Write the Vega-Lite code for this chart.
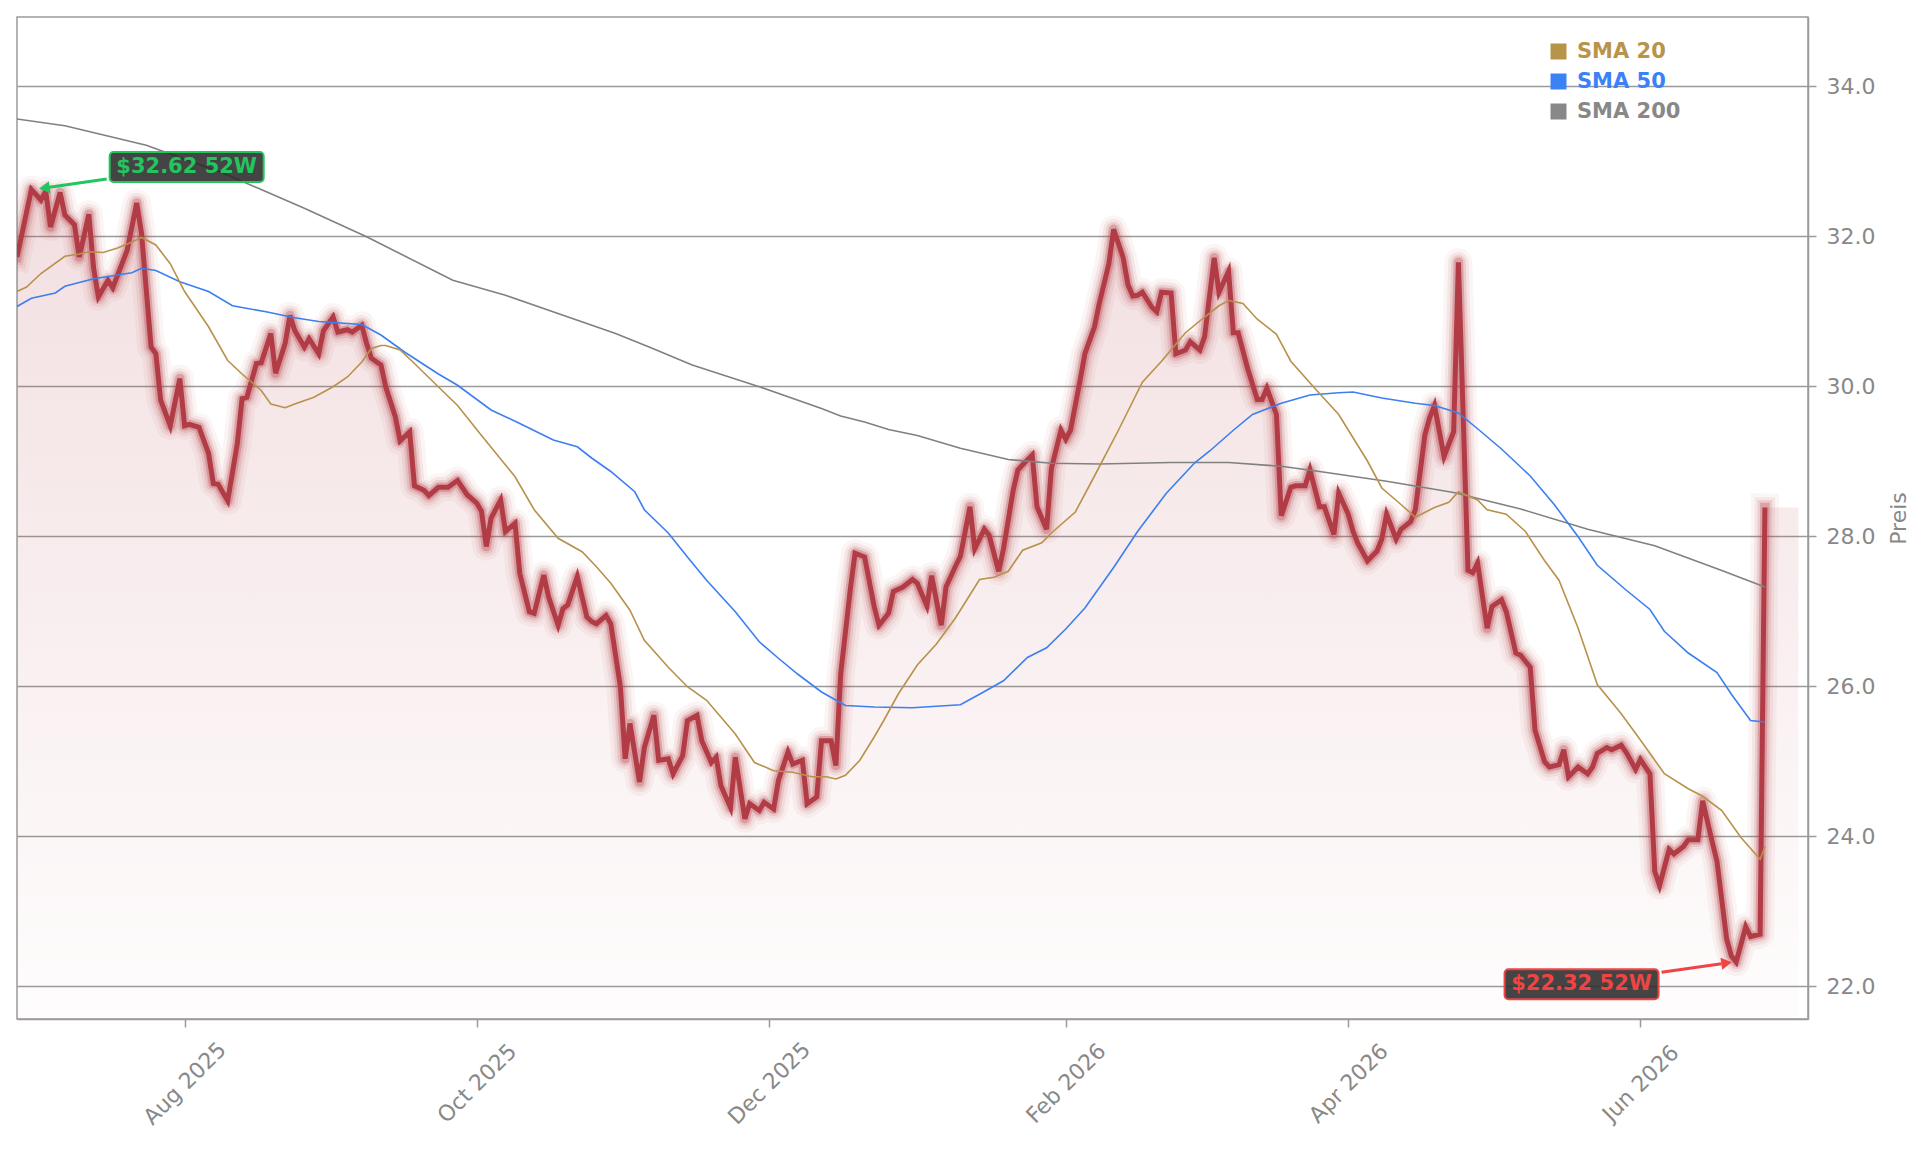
{
  "$schema": "https://vega.github.io/schema/vega-lite/v6.json",
  "width": 1791,
  "height": 1002,
  "autosize": {"type": "none"},
  "padding": {"left": 17, "top": 17, "right": 121, "bottom": 132},
  "background": "white",
  "config": {
    "font": "DejaVu Sans",
    "view": {"stroke": "#9a9a9a", "strokeWidth": 1.5},
    "axis": {"labelFont": "DejaVu Sans", "titleFont": "DejaVu Sans"}
  },
  "datasets": {
    "price": [
      {"d":"2025-06-27","p":31.72},{"d":"2025-06-30","p":32.62},{"d":"2025-07-02","p":32.48},{"d":"2025-07-03","p":32.60},
      {"d":"2025-07-04","p":32.12},{"d":"2025-07-06","p":32.58},{"d":"2025-07-07","p":32.28},{"d":"2025-07-09","p":32.15},
      {"d":"2025-07-10","p":31.72},{"d":"2025-07-12","p":32.29},{"d":"2025-07-13","p":31.57},{"d":"2025-07-14","p":31.19},
      {"d":"2025-07-16","p":31.41},{"d":"2025-07-17","p":31.31},{"d":"2025-07-20","p":31.81},{"d":"2025-07-22","p":32.44},
      {"d":"2025-07-23","p":32.04},{"d":"2025-07-25","p":30.52},{"d":"2025-07-26","p":30.43},{"d":"2025-07-27","p":29.81},
      {"d":"2025-07-29","p":29.47},{"d":"2025-07-31","p":30.10},{"d":"2025-08-01","p":29.47},{"d":"2025-08-02","p":29.49},
      {"d":"2025-08-04","p":29.45},{"d":"2025-08-06","p":29.10},{"d":"2025-08-07","p":28.70},{"d":"2025-08-08","p":28.69},
      {"d":"2025-08-10","p":28.47},{"d":"2025-08-12","p":29.23},{"d":"2025-08-13","p":29.83},{"d":"2025-08-14","p":29.85},
      {"d":"2025-08-16","p":30.30},{"d":"2025-08-17","p":30.31},{"d":"2025-08-19","p":30.70},{"d":"2025-08-20","p":30.17},
      {"d":"2025-08-22","p":30.57},{"d":"2025-08-23","p":30.94},{"d":"2025-08-24","p":30.74},{"d":"2025-08-26","p":30.52},
      {"d":"2025-08-27","p":30.63},{"d":"2025-08-29","p":30.43},{"d":"2025-08-30","p":30.74},{"d":"2025-09-01","p":30.92},
      {"d":"2025-09-02","p":30.72},{"d":"2025-09-04","p":30.75},{"d":"2025-09-05","p":30.72},{"d":"2025-09-07","p":30.81},
      {"d":"2025-09-08","p":30.57},{"d":"2025-09-09","p":30.37},{"d":"2025-09-11","p":30.28},{"d":"2025-09-12","p":29.99},
      {"d":"2025-09-14","p":29.59},{"d":"2025-09-15","p":29.27},{"d":"2025-09-17","p":29.39},{"d":"2025-09-18","p":28.67},
      {"d":"2025-09-20","p":28.61},{"d":"2025-09-21","p":28.54},{"d":"2025-09-23","p":28.65},{"d":"2025-09-25","p":28.65},
      {"d":"2025-09-27","p":28.74},{"d":"2025-09-29","p":28.55},{"d":"2025-10-01","p":28.44},{"d":"2025-10-02","p":28.33},
      {"d":"2025-10-03","p":27.86},{"d":"2025-10-04","p":28.24},{"d":"2025-10-06","p":28.48},{"d":"2025-10-07","p":28.06},
      {"d":"2025-10-09","p":28.17},{"d":"2025-10-10","p":27.50},{"d":"2025-10-12","p":26.99},{"d":"2025-10-13","p":26.97},
      {"d":"2025-10-15","p":27.48},{"d":"2025-10-16","p":27.19},{"d":"2025-10-18","p":26.81},{"d":"2025-10-19","p":27.03},
      {"d":"2025-10-20","p":27.08},{"d":"2025-10-22","p":27.46},{"d":"2025-10-24","p":26.92},{"d":"2025-10-25","p":26.86},
      {"d":"2025-10-26","p":26.83},{"d":"2025-10-28","p":26.94},{"d":"2025-10-29","p":26.83},{"d":"2025-10-31","p":25.99},
      {"d":"2025-11-01","p":25.03},{"d":"2025-11-02","p":25.50},{"d":"2025-11-04","p":24.72},{"d":"2025-11-05","p":25.18},
      {"d":"2025-11-07","p":25.61},{"d":"2025-11-08","p":25.01},{"d":"2025-11-10","p":25.03},{"d":"2025-11-11","p":24.83},
      {"d":"2025-11-13","p":25.07},{"d":"2025-11-14","p":25.54},{"d":"2025-11-16","p":25.61},{"d":"2025-11-17","p":25.27},
      {"d":"2025-11-19","p":24.98},{"d":"2025-11-20","p":25.05},{"d":"2025-11-21","p":24.67},{"d":"2025-11-23","p":24.38},
      {"d":"2025-11-24","p":25.05},{"d":"2025-11-26","p":24.23},{"d":"2025-11-27","p":24.43},{"d":"2025-11-29","p":24.34},
      {"d":"2025-11-30","p":24.45},{"d":"2025-12-02","p":24.36},{"d":"2025-12-03","p":24.74},{"d":"2025-12-05","p":25.12},
      {"d":"2025-12-06","p":24.96},{"d":"2025-12-08","p":25.01},{"d":"2025-12-09","p":24.43},{"d":"2025-12-11","p":24.52},
      {"d":"2025-12-12","p":25.27},{"d":"2025-12-14","p":25.27},{"d":"2025-12-15","p":24.94},{"d":"2025-12-16","p":26.16},
      {"d":"2025-12-18","p":27.28},{"d":"2025-12-19","p":27.77},{"d":"2025-12-21","p":27.72},{"d":"2025-12-23","p":27.06},
      {"d":"2025-12-24","p":26.81},{"d":"2025-12-26","p":26.97},{"d":"2025-12-27","p":27.26},{"d":"2025-12-29","p":27.32},
      {"d":"2025-12-31","p":27.42},{"d":"2026-01-01","p":27.37},{"d":"2026-01-03","p":27.07},{"d":"2026-01-04","p":27.47},
      {"d":"2026-01-06","p":26.81},{"d":"2026-01-07","p":27.32},{"d":"2026-01-09","p":27.60},{"d":"2026-01-10","p":27.73},
      {"d":"2026-01-12","p":28.39},{"d":"2026-01-13","p":27.83},{"d":"2026-01-15","p":28.09},{"d":"2026-01-16","p":28.01},
      {"d":"2026-01-18","p":27.53},{"d":"2026-01-19","p":27.83},{"d":"2026-01-21","p":28.60},{"d":"2026-01-22","p":28.88},
      {"d":"2026-01-23","p":28.95},{"d":"2026-01-25","p":29.08},{"d":"2026-01-26","p":28.39},{"d":"2026-01-28","p":28.09},
      {"d":"2026-01-29","p":28.90},{"d":"2026-01-31","p":29.41},{"d":"2026-02-01","p":29.29},{"d":"2026-02-02","p":29.41},
      {"d":"2026-02-04","p":30.08},{"d":"2026-02-05","p":30.43},{"d":"2026-02-07","p":30.79},{"d":"2026-02-08","p":31.10},
      {"d":"2026-02-10","p":31.63},{"d":"2026-02-11","p":32.09},{"d":"2026-02-13","p":31.71},{"d":"2026-02-14","p":31.35},
      {"d":"2026-02-15","p":31.20},{"d":"2026-02-16","p":31.21},{"d":"2026-02-17","p":31.25},{"d":"2026-02-19","p":31.05},
      {"d":"2026-02-20","p":30.99},{"d":"2026-02-21","p":31.25},{"d":"2026-02-23","p":31.24},{"d":"2026-02-24","p":30.43},
      {"d":"2026-02-26","p":30.48},{"d":"2026-02-27","p":30.59},{"d":"2026-03-01","p":30.48},{"d":"2026-03-02","p":30.66},
      {"d":"2026-03-04","p":31.71},{"d":"2026-03-05","p":31.25},{"d":"2026-03-07","p":31.53},{"d":"2026-03-08","p":30.71},
      {"d":"2026-03-09","p":30.71},{"d":"2026-03-11","p":30.23},{"d":"2026-03-13","p":29.82},{"d":"2026-03-14","p":29.82},
      {"d":"2026-03-15","p":29.97},{"d":"2026-03-17","p":29.62},{"d":"2026-03-18","p":28.27},{"d":"2026-03-20","p":28.65},
      {"d":"2026-03-21","p":28.67},{"d":"2026-03-23","p":28.67},{"d":"2026-03-24","p":28.88},{"d":"2026-03-26","p":28.39},
      {"d":"2026-03-27","p":28.39},{"d":"2026-03-29","p":28.02},{"d":"2026-03-30","p":28.57},{"d":"2026-04-01","p":28.29},
      {"d":"2026-04-02","p":28.06},{"d":"2026-04-03","p":27.90},{"d":"2026-04-05","p":27.67},{"d":"2026-04-07","p":27.80},
      {"d":"2026-04-08","p":27.96},{"d":"2026-04-09","p":28.29},{"d":"2026-04-11","p":27.96},{"d":"2026-04-12","p":28.09},
      {"d":"2026-04-14","p":28.19},{"d":"2026-04-15","p":28.35},{"d":"2026-04-17","p":29.35},{"d":"2026-04-18","p":29.58},
      {"d":"2026-04-19","p":29.74},{"d":"2026-04-21","p":29.06},{"d":"2026-04-23","p":29.39},{"d":"2026-04-24","p":31.65},
      {"d":"2026-04-26","p":27.54},{"d":"2026-04-27","p":27.51},{"d":"2026-04-28","p":27.64},{"d":"2026-04-30","p":26.77},
      {"d":"2026-05-01","p":27.06},{"d":"2026-05-03","p":27.15},{"d":"2026-05-04","p":26.99},{"d":"2026-05-06","p":26.44},
      {"d":"2026-05-07","p":26.41},{"d":"2026-05-09","p":26.25},{"d":"2026-05-10","p":25.41},{"d":"2026-05-12","p":24.99},
      {"d":"2026-05-13","p":24.92},{"d":"2026-05-15","p":24.95},{"d":"2026-05-16","p":25.15},{"d":"2026-05-17","p":24.79},
      {"d":"2026-05-19","p":24.92},{"d":"2026-05-21","p":24.83},{"d":"2026-05-22","p":24.92},{"d":"2026-05-23","p":25.10},
      {"d":"2026-05-25","p":25.18},{"d":"2026-05-26","p":25.15},{"d":"2026-05-28","p":25.21},{"d":"2026-05-29","p":25.12},
      {"d":"2026-05-31","p":24.89},{"d":"2026-06-01","p":25.02},{"d":"2026-06-03","p":24.83},{"d":"2026-06-04","p":23.53},
      {"d":"2026-06-05","p":23.34},{"d":"2026-06-07","p":23.82},{"d":"2026-06-08","p":23.76},{"d":"2026-06-10","p":23.86},
      {"d":"2026-06-11","p":23.95},{"d":"2026-06-13","p":23.95},{"d":"2026-06-14","p":24.47},{"d":"2026-06-16","p":23.92},
      {"d":"2026-06-17","p":23.66},{"d":"2026-06-19","p":22.63},{"d":"2026-06-20","p":22.40},{"d":"2026-06-21","p":22.32},
      {"d":"2026-06-23","p":22.79},{"d":"2026-06-24","p":22.66},{"d":"2026-06-26","p":22.69},{"d":"2026-06-27","p":28.38},
      {"d":"2026-07-04","p":28.38,"ext":true}
    ],
    "sma": [
      {"d":"2025-06-27","s":"SMA 200","v":33.56},{"d":"2025-07-07","s":"SMA 200","v":33.47},{"d":"2025-07-24","s":"SMA 200","v":33.21},
      {"d":"2025-08-09","s":"SMA 200","v":32.84},{"d":"2025-08-26","s":"SMA 200","v":32.37},{"d":"2025-09-08","s":"SMA 200","v":31.99},
      {"d":"2025-09-26","s":"SMA 200","v":31.41},{"d":"2025-10-07","s":"SMA 200","v":31.21},{"d":"2025-10-30","s":"SMA 200","v":30.70},
      {"d":"2025-11-06","s":"SMA 200","v":30.52},{"d":"2025-11-15","s":"SMA 200","v":30.28},{"d":"2025-11-29","s":"SMA 200","v":29.99},
      {"d":"2025-12-12","s":"SMA 200","v":29.70},{"d":"2025-12-16","s":"SMA 200","v":29.60},{"d":"2025-12-21","s":"SMA 200","v":29.52},
      {"d":"2025-12-26","s":"SMA 200","v":29.42},{"d":"2026-01-01","s":"SMA 200","v":29.34},{"d":"2026-01-10","s":"SMA 200","v":29.17},
      {"d":"2026-01-20","s":"SMA 200","v":29.02},{"d":"2026-01-29","s":"SMA 200","v":28.97},{"d":"2026-02-08","s":"SMA 200","v":28.96},
      {"d":"2026-02-23","s":"SMA 200","v":28.98},{"d":"2026-03-07","s":"SMA 200","v":28.98},{"d":"2026-03-18","s":"SMA 200","v":28.93},
      {"d":"2026-03-26","s":"SMA 200","v":28.86},{"d":"2026-04-09","s":"SMA 200","v":28.73},{"d":"2026-04-23","s":"SMA 200","v":28.58},
      {"d":"2026-05-07","s":"SMA 200","v":28.36},{"d":"2026-05-21","s":"SMA 200","v":28.09},{"d":"2026-06-04","s":"SMA 200","v":27.87},
      {"d":"2026-06-18","s":"SMA 200","v":27.54},{"d":"2026-06-27","s":"SMA 200","v":27.32},

      {"d":"2025-06-27","s":"SMA 50","v":31.06},{"d":"2025-06-30","s":"SMA 50","v":31.17},{"d":"2025-07-05","s":"SMA 50","v":31.24},
      {"d":"2025-07-07","s":"SMA 50","v":31.33},{"d":"2025-07-13","s":"SMA 50","v":31.43},{"d":"2025-07-17","s":"SMA 50","v":31.47},
      {"d":"2025-07-21","s":"SMA 50","v":31.51},{"d":"2025-07-23","s":"SMA 50","v":31.57},{"d":"2025-07-26","s":"SMA 50","v":31.54},
      {"d":"2025-07-31","s":"SMA 50","v":31.39},{"d":"2025-08-06","s":"SMA 50","v":31.26},{"d":"2025-08-11","s":"SMA 50","v":31.07},
      {"d":"2025-08-18","s":"SMA 50","v":30.99},{"d":"2025-08-24","s":"SMA 50","v":30.91},{"d":"2025-08-29","s":"SMA 50","v":30.86},
      {"d":"2025-09-07","s":"SMA 50","v":30.82},{"d":"2025-09-11","s":"SMA 50","v":30.68},{"d":"2025-09-16","s":"SMA 50","v":30.45},
      {"d":"2025-09-23","s":"SMA 50","v":30.16},{"d":"2025-09-27","s":"SMA 50","v":30.01},{"d":"2025-10-04","s":"SMA 50","v":29.68},
      {"d":"2025-10-10","s":"SMA 50","v":29.50},{"d":"2025-10-17","s":"SMA 50","v":29.28},{"d":"2025-10-22","s":"SMA 50","v":29.19},
      {"d":"2025-10-25","s":"SMA 50","v":29.04},{"d":"2025-10-29","s":"SMA 50","v":28.86},{"d":"2025-11-03","s":"SMA 50","v":28.59},
      {"d":"2025-11-05","s":"SMA 50","v":28.35},{"d":"2025-11-10","s":"SMA 50","v":28.04},{"d":"2025-11-14","s":"SMA 50","v":27.72},
      {"d":"2025-11-18","s":"SMA 50","v":27.41},{"d":"2025-11-24","s":"SMA 50","v":26.99},{"d":"2025-11-29","s":"SMA 50","v":26.59},
      {"d":"2025-12-03","s":"SMA 50","v":26.37},{"d":"2025-12-07","s":"SMA 50","v":26.16},{"d":"2025-12-12","s":"SMA 50","v":25.92},
      {"d":"2025-12-17","s":"SMA 50","v":25.74},{"d":"2025-12-23","s":"SMA 50","v":25.72},{"d":"2025-12-31","s":"SMA 50","v":25.71},
      {"d":"2026-01-10","s":"SMA 50","v":25.75},{"d":"2026-01-14","s":"SMA 50","v":25.89},{"d":"2026-01-19","s":"SMA 50","v":26.07},
      {"d":"2026-01-24","s":"SMA 50","v":26.38},{"d":"2026-01-28","s":"SMA 50","v":26.51},{"d":"2026-02-01","s":"SMA 50","v":26.76},
      {"d":"2026-02-05","s":"SMA 50","v":27.04},{"d":"2026-02-11","s":"SMA 50","v":27.58},{"d":"2026-02-16","s":"SMA 50","v":28.06},
      {"d":"2026-02-22","s":"SMA 50","v":28.57},{"d":"2026-02-28","s":"SMA 50","v":28.98},{"d":"2026-03-03","s":"SMA 50","v":29.13},
      {"d":"2026-03-08","s":"SMA 50","v":29.41},{"d":"2026-03-12","s":"SMA 50","v":29.62},{"d":"2026-03-18","s":"SMA 50","v":29.77},
      {"d":"2026-03-24","s":"SMA 50","v":29.88},{"d":"2026-03-30","s":"SMA 50","v":29.91},{"d":"2026-04-02","s":"SMA 50","v":29.92},
      {"d":"2026-04-08","s":"SMA 50","v":29.84},{"d":"2026-04-15","s":"SMA 50","v":29.77},{"d":"2026-04-19","s":"SMA 50","v":29.74},
      {"d":"2026-04-24","s":"SMA 50","v":29.64},{"d":"2026-04-28","s":"SMA 50","v":29.43},{"d":"2026-05-03","s":"SMA 50","v":29.16},
      {"d":"2026-05-09","s":"SMA 50","v":28.80},{"d":"2026-05-14","s":"SMA 50","v":28.42},{"d":"2026-05-19","s":"SMA 50","v":27.99},
      {"d":"2026-05-23","s":"SMA 50","v":27.61},{"d":"2026-05-29","s":"SMA 50","v":27.28},{"d":"2026-06-03","s":"SMA 50","v":27.02},
      {"d":"2026-06-06","s":"SMA 50","v":26.73},{"d":"2026-06-11","s":"SMA 50","v":26.44},{"d":"2026-06-17","s":"SMA 50","v":26.18},
      {"d":"2026-06-20","s":"SMA 50","v":25.89},{"d":"2026-06-24","s":"SMA 50","v":25.54},{"d":"2026-06-27","s":"SMA 50","v":25.52},

      {"d":"2025-06-27","s":"SMA 20","v":31.26},{"d":"2025-06-29","s":"SMA 20","v":31.32},{"d":"2025-07-02","s":"SMA 20","v":31.50},
      {"d":"2025-07-07","s":"SMA 20","v":31.73},{"d":"2025-07-10","s":"SMA 20","v":31.76},{"d":"2025-07-12","s":"SMA 20","v":31.79},
      {"d":"2025-07-15","s":"SMA 20","v":31.78},{"d":"2025-07-18","s":"SMA 20","v":31.84},{"d":"2025-07-21","s":"SMA 20","v":31.92},
      {"d":"2025-07-23","s":"SMA 20","v":31.98},{"d":"2025-07-26","s":"SMA 20","v":31.88},{"d":"2025-07-29","s":"SMA 20","v":31.63},
      {"d":"2025-08-01","s":"SMA 20","v":31.26},{"d":"2025-08-06","s":"SMA 20","v":30.79},{"d":"2025-08-10","s":"SMA 20","v":30.34},
      {"d":"2025-08-13","s":"SMA 20","v":30.16},{"d":"2025-08-17","s":"SMA 20","v":29.94},{"d":"2025-08-19","s":"SMA 20","v":29.76},
      {"d":"2025-08-22","s":"SMA 20","v":29.71},{"d":"2025-08-24","s":"SMA 20","v":29.76},{"d":"2025-08-28","s":"SMA 20","v":29.85},
      {"d":"2025-09-01","s":"SMA 20","v":29.99},{"d":"2025-09-04","s":"SMA 20","v":30.12},{"d":"2025-09-07","s":"SMA 20","v":30.32},
      {"d":"2025-09-09","s":"SMA 20","v":30.50},{"d":"2025-09-11","s":"SMA 20","v":30.54},{"d":"2025-09-12","s":"SMA 20","v":30.54},
      {"d":"2025-09-15","s":"SMA 20","v":30.48},{"d":"2025-09-18","s":"SMA 20","v":30.30},{"d":"2025-09-22","s":"SMA 20","v":30.05},
      {"d":"2025-09-27","s":"SMA 20","v":29.74},{"d":"2025-10-02","s":"SMA 20","v":29.34},{"d":"2025-10-09","s":"SMA 20","v":28.79},
      {"d":"2025-10-13","s":"SMA 20","v":28.35},{"d":"2025-10-18","s":"SMA 20","v":27.97},{"d":"2025-10-23","s":"SMA 20","v":27.79},
      {"d":"2025-10-26","s":"SMA 20","v":27.59},{"d":"2025-10-29","s":"SMA 20","v":27.37},{"d":"2025-11-02","s":"SMA 20","v":27.01},
      {"d":"2025-11-05","s":"SMA 20","v":26.61},{"d":"2025-11-10","s":"SMA 20","v":26.25},{"d":"2025-11-14","s":"SMA 20","v":25.99},
      {"d":"2025-11-18","s":"SMA 20","v":25.81},{"d":"2025-11-24","s":"SMA 20","v":25.36},{"d":"2025-11-28","s":"SMA 20","v":24.98},
      {"d":"2025-12-02","s":"SMA 20","v":24.87},{"d":"2025-12-06","s":"SMA 20","v":24.85},{"d":"2025-12-10","s":"SMA 20","v":24.79},
      {"d":"2025-12-13","s":"SMA 20","v":24.79},{"d":"2025-12-15","s":"SMA 20","v":24.76},{"d":"2025-12-17","s":"SMA 20","v":24.81},
      {"d":"2025-12-20","s":"SMA 20","v":25.01},{"d":"2025-12-23","s":"SMA 20","v":25.32},{"d":"2025-12-25","s":"SMA 20","v":25.54},
      {"d":"2025-12-28","s":"SMA 20","v":25.89},{"d":"2026-01-01","s":"SMA 20","v":26.28},{"d":"2026-01-05","s":"SMA 20","v":26.56},
      {"d":"2026-01-09","s":"SMA 20","v":26.91},{"d":"2026-01-14","s":"SMA 20","v":27.42},{"d":"2026-01-17","s":"SMA 20","v":27.45},
      {"d":"2026-01-20","s":"SMA 20","v":27.53},{"d":"2026-01-23","s":"SMA 20","v":27.81},{"d":"2026-01-27","s":"SMA 20","v":27.91},
      {"d":"2026-01-29","s":"SMA 20","v":28.04},{"d":"2026-02-03","s":"SMA 20","v":28.32},{"d":"2026-02-07","s":"SMA 20","v":28.80},
      {"d":"2026-02-12","s":"SMA 20","v":29.41},{"d":"2026-02-17","s":"SMA 20","v":30.05},{"d":"2026-02-21","s":"SMA 20","v":30.33},
      {"d":"2026-02-26","s":"SMA 20","v":30.71},{"d":"2026-03-02","s":"SMA 20","v":30.92},{"d":"2026-03-05","s":"SMA 20","v":31.07},
      {"d":"2026-03-07","s":"SMA 20","v":31.14},{"d":"2026-03-10","s":"SMA 20","v":31.10},{"d":"2026-03-13","s":"SMA 20","v":30.89},
      {"d":"2026-03-17","s":"SMA 20","v":30.69},{"d":"2026-03-20","s":"SMA 20","v":30.33},{"d":"2026-03-25","s":"SMA 20","v":29.97},
      {"d":"2026-03-30","s":"SMA 20","v":29.62},{"d":"2026-04-05","s":"SMA 20","v":29.00},{"d":"2026-04-08","s":"SMA 20","v":28.64},
      {"d":"2026-04-12","s":"SMA 20","v":28.42},{"d":"2026-04-15","s":"SMA 20","v":28.25},{"d":"2026-04-19","s":"SMA 20","v":28.38},
      {"d":"2026-04-22","s":"SMA 20","v":28.45},{"d":"2026-04-24","s":"SMA 20","v":28.59},{"d":"2026-04-28","s":"SMA 20","v":28.48},
      {"d":"2026-04-30","s":"SMA 20","v":28.35},{"d":"2026-05-04","s":"SMA 20","v":28.29},{"d":"2026-05-08","s":"SMA 20","v":28.06},
      {"d":"2026-05-12","s":"SMA 20","v":27.67},{"d":"2026-05-15","s":"SMA 20","v":27.41},{"d":"2026-05-19","s":"SMA 20","v":26.77},
      {"d":"2026-05-23","s":"SMA 20","v":26.02},{"d":"2026-05-28","s":"SMA 20","v":25.63},{"d":"2026-06-01","s":"SMA 20","v":25.28},
      {"d":"2026-06-06","s":"SMA 20","v":24.83},{"d":"2026-06-11","s":"SMA 20","v":24.63},{"d":"2026-06-14","s":"SMA 20","v":24.53},
      {"d":"2026-06-18","s":"SMA 20","v":24.34},{"d":"2026-06-22","s":"SMA 20","v":23.98},{"d":"2026-06-26","s":"SMA 20","v":23.69},
      {"d":"2026-06-27","s":"SMA 20","v":23.86}
    ],
    "notes": [
      {"d":"2025-06-30","p":32.62,"label":"$32.62 52W","kind":"hi"},
      {"d":"2026-06-21","p":22.32,"label":"$22.32 52W","kind":"lo"}
    ]
  },
  "layer": [
    {
      "data": {"name": "price"},
      "mark": {
        "type": "area",
        "clip": true,
        "fill": {"gradient": "linear", "x1": 0, "y1": 0, "x2": 0, "y2": 1,
          "stops": [{"offset": 0, "color": "rgba(181,64,74,0.17)"}, {"offset": 1, "color": "rgba(181,64,74,0.01)"}]}
      },
      "encoding": {
        "x": {
          "field": "d", "type": "temporal",
          "scale": {"type": "utc", "domain": [{"year": 2025, "month": 6, "date": 27, "utc": true}, {"year": 2026, "month": 7, "date": 6, "utc": true}]},
          "axis": {
            "title": null, "grid": false,
            "values": [
              {"year": 2025, "month": 8, "date": 1, "utc": true},
              {"year": 2025, "month": 10, "date": 1, "utc": true},
              {"year": 2025, "month": 12, "date": 1, "utc": true},
              {"year": 2026, "month": 2, "date": 1, "utc": true},
              {"year": 2026, "month": 4, "date": 1, "utc": true},
              {"year": 2026, "month": 6, "date": 1, "utc": true}
            ],
            "format": "%b %Y",
            "labelAngle": -45, "labelAlign": "center", "labelBaseline": "middle", "labelPadding": 56,
            "labelFontSize": 22, "labelColor": "#888888", "labelOverlap": false, "labelFlush": false,
            "tickColor": "#9a9a9a", "tickSize": 8, "tickWidth": 1.5,
            "domainColor": "#9a9a9a", "domainWidth": 1.5
          }
        },
        "y": {
          "field": "p", "type": "quantitative",
          "scale": {"domain": [21.56, 34.92], "nice": false, "zero": false},
          "axis": {
            "orient": "right", "title": "Preis",
            "values": [22, 24, 26, 28, 30, 32, 34], "format": ".1f",
            "grid": true, "gridColor": "#9a9a9a", "gridWidth": 1.5,
            "labelFontSize": 22, "labelColor": "#888888", "labelPadding": 10, "labelOverlap": false,
            "tickColor": "#9a9a9a", "tickSize": 8, "tickWidth": 1.5,
            "domainColor": "#9a9a9a", "domainWidth": 1.5,
            "titleFontSize": 22, "titleFontWeight": "normal", "titleColor": "#888888",
            "titleAngle": 270, "titleBaseline": "top", "titlePadding": 14
          }
        },
        "y2": {"datum": 21.56}
      }
    },
    {
      "data": {"name": "price"},
      "transform": [{"filter": "!datum.ext"}],
      "mark": {"type": "line", "clip": true, "color": "#b5404a", "strokeWidth": 28, "opacity": 0.055, "strokeJoin": "round", "strokeCap": "square"},
      "encoding": {"x": {"field": "d", "type": "temporal"}, "y": {"field": "p", "type": "quantitative"}}
    },
    {
      "data": {"name": "price"},
      "transform": [{"filter": "!datum.ext"}],
      "mark": {"type": "line", "clip": true, "color": "#b5404a", "strokeWidth": 20.5, "opacity": 0.085, "strokeJoin": "round", "strokeCap": "square"},
      "encoding": {"x": {"field": "d", "type": "temporal"}, "y": {"field": "p", "type": "quantitative"}}
    },
    {
      "data": {"name": "price"},
      "transform": [{"filter": "!datum.ext"}],
      "mark": {"type": "line", "clip": true, "color": "#b5404a", "strokeWidth": 14.5, "opacity": 0.15, "strokeJoin": "round", "strokeCap": "square"},
      "encoding": {"x": {"field": "d", "type": "temporal"}, "y": {"field": "p", "type": "quantitative"}}
    },
    {
      "data": {"name": "price"},
      "transform": [{"filter": "!datum.ext"}],
      "mark": {"type": "line", "clip": true, "color": "#b5404a", "strokeWidth": 9.5, "opacity": 0.3, "strokeJoin": "round", "strokeCap": "square"},
      "encoding": {"x": {"field": "d", "type": "temporal"}, "y": {"field": "p", "type": "quantitative"}}
    },
    {
      "data": {"name": "price"},
      "transform": [{"filter": "!datum.ext"}],
      "mark": {"type": "line", "clip": true, "color": "#b23c46", "strokeWidth": 5},
      "encoding": {"x": {"field": "d", "type": "temporal"}, "y": {"field": "p", "type": "quantitative"}}
    },
    {
      "data": {"name": "sma"},
      "transform": [{"filter": "datum.s === 'SMA 200'"}],
      "mark": {"type": "line", "clip": true, "strokeWidth": 1.6, "color": "#808080"},
      "encoding": {"x": {"field": "d", "type": "temporal"}, "y": {"field": "v", "type": "quantitative"}}
    },
    {
      "data": {"name": "sma"},
      "transform": [{"filter": "datum.s === 'SMA 50'"}],
      "mark": {"type": "line", "clip": true, "strokeWidth": 1.6, "color": "#3b7ff0"},
      "encoding": {"x": {"field": "d", "type": "temporal"}, "y": {"field": "v", "type": "quantitative"}}
    },
    {
      "data": {"name": "sma"},
      "transform": [{"filter": "datum.s === 'SMA 20'"}],
      "mark": {"type": "line", "clip": true, "strokeWidth": 1.6, "color": "#b8914b"},
      "encoding": {"x": {"field": "d", "type": "temporal"}, "y": {"field": "v", "type": "quantitative"}}
    },
    {
      "data": {"name": "sma"},
      "transform": [{"filter": "datum.v > 100"}],
      "mark": {"type": "square"},
      "encoding": {
        "x": {"field": "d", "type": "temporal"},
        "y": {"field": "v", "type": "quantitative"},
        "fill": {
          "field": "s", "type": "nominal",
          "scale": {"domain": ["SMA 20", "SMA 50", "SMA 200"], "range": ["#b8944a", "#3b82f6", "#888888"]},
          "legend": {
            "title": null, "orient": "none", "legendX": 1531, "legendY": 24, "padding": 0,
            "symbolType": "square", "symbolSize": 256, "symbolStrokeWidth": 0, "symbolOpacity": 1,
            "labelFont": "DejaVu Sans", "labelFontSize": 21, "labelFontWeight": "bold", "labelOffset": 8,
            "labelColor": {"expr": "datum.label === 'SMA 20' ? '#b8944a' : datum.label === 'SMA 50' ? '#3b82f6' : '#888888'"},
            "rowPadding": 8
          }
        }
      }
    },
    {
      "data": {"name": "notes"},
      "transform": [{"filter": "datum.kind === 'hi'"}],
      "layer": [
        {
          "mark": {"type": "rect", "fill": "#2a2a2a", "fillOpacity": 0.88, "stroke": "#22c55e", "strokeWidth": 2, "cornerRadius": 4,
            "xOffset": 78.3, "x2Offset": 232.3, "yOffset": -37.5, "y2Offset": -7.5},
          "encoding": {"x": {"field": "d", "type": "temporal"}, "x2": {"field": "d"}, "y": {"field": "p", "type": "quantitative"}, "y2": {"field": "p"}}
        },
        {
          "mark": {"type": "rule", "color": "#22c55e", "strokeWidth": 3,
            "xOffset": 75.3, "yOffset": -10.5, "x2Offset": 16.3, "y2Offset": -2},
          "encoding": {"x": {"field": "d", "type": "temporal"}, "x2": {"field": "d"}, "y": {"field": "p", "type": "quantitative"}, "y2": {"field": "p"}}
        },
        {
          "mark": {"type": "point", "shape": "triangle-left", "filled": true, "color": "#22c55e", "opacity": 1, "size": 150, "angle": -8,
            "xOffset": 13, "yOffset": -1.5},
          "encoding": {"x": {"field": "d", "type": "temporal"}, "y": {"field": "p", "type": "quantitative"}}
        },
        {
          "mark": {"type": "text", "color": "#22c55e", "font": "DejaVu Sans", "fontSize": 21, "fontWeight": "bold",
            "align": "center", "baseline": "middle", "dx": 155.3, "dy": -22.5},
          "encoding": {"x": {"field": "d", "type": "temporal"}, "y": {"field": "p", "type": "quantitative"}, "text": {"field": "label"}}
        }
      ]
    },
    {
      "data": {"name": "notes"},
      "transform": [{"filter": "datum.kind === 'lo'"}],
      "layer": [
        {
          "mark": {"type": "rect", "fill": "#2a2a2a", "fillOpacity": 0.88, "stroke": "#ef4444", "strokeWidth": 2, "cornerRadius": 4,
            "xOffset": -231.6, "x2Offset": -77.6, "yOffset": 7.3, "y2Offset": 37.3},
          "encoding": {"x": {"field": "d", "type": "temporal"}, "x2": {"field": "d"}, "y": {"field": "p", "type": "quantitative"}, "y2": {"field": "p"}}
        },
        {
          "mark": {"type": "rule", "color": "#ef4444", "strokeWidth": 3,
            "xOffset": -74.6, "yOffset": 10.3, "x2Offset": -14.6, "y2Offset": 1.8},
          "encoding": {"x": {"field": "d", "type": "temporal"}, "x2": {"field": "d"}, "y": {"field": "p", "type": "quantitative"}, "y2": {"field": "p"}}
        },
        {
          "mark": {"type": "point", "shape": "triangle-right", "filled": true, "color": "#ef4444", "opacity": 1, "size": 150, "angle": -8,
            "xOffset": -9.6, "yOffset": 1},
          "encoding": {"x": {"field": "d", "type": "temporal"}, "y": {"field": "p", "type": "quantitative"}}
        },
        {
          "mark": {"type": "text", "color": "#ef4444", "font": "DejaVu Sans", "fontSize": 21, "fontWeight": "bold",
            "align": "center", "baseline": "middle", "dx": -154.6, "dy": 22.3},
          "encoding": {"x": {"field": "d", "type": "temporal"}, "y": {"field": "p", "type": "quantitative"}, "text": {"field": "label"}}
        }
      ]
    }
  ]
}
